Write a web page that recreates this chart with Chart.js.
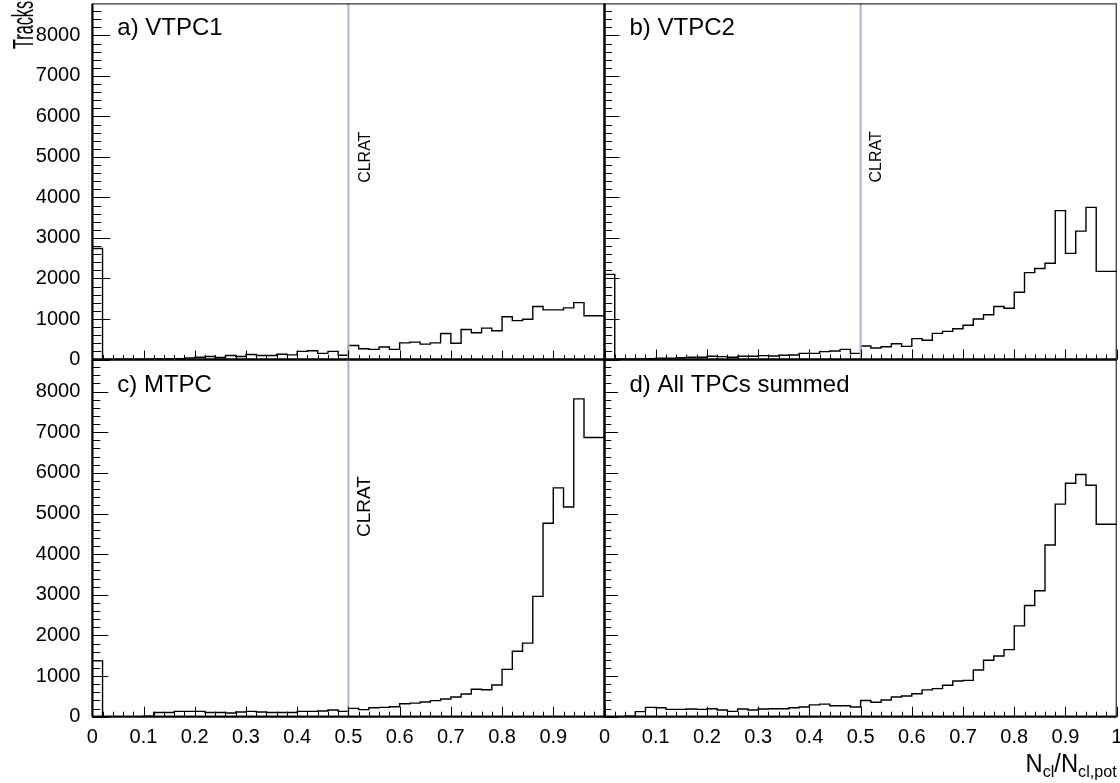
<!DOCTYPE html>
<html>
<head>
<meta charset="utf-8">
<title>Cluster ratio per TPC</title>
<script src="https://cdn.jsdelivr.net/npm/chart.js@4.4.0/dist/chart.umd.min.js"></script>
<style>
  html, body { margin: 0; padding: 0; background: #fff; }
  #wrap { position: relative; width: 1120px; height: 783px; }
  #wrap canvas { position: absolute; left: 0; top: 0; }
</style>
</head>
<body>
<div id="wrap">
  <canvas id="panel-a" width="1120" height="783"></canvas>
  <canvas id="panel-b" width="1120" height="783"></canvas>
  <canvas id="panel-c" width="1120" height="783"></canvas>
  <canvas id="panel-d" width="1120" height="783"></canvas>
</div>
<script>
// Histogram: 50 bins of width 0.02 between 0 and 1 (N_cl / N_cl,pot)
const X_MIN = 0, X_MAX = 1, BIN_WIDTH = 0.02;
const Y_MAX = 8790;
const CLRAT_CUT = 0.5;

// Bin contents (tracks per bin)
const vtpc1 = [2740, 0, 0, 0, 0, 10, 15, 15, 20, 40, 55, 75, 50, 100, 75, 125, 100, 100, 130, 115, 200, 215, 150, 200, 105,
               345, 265, 250, 310, 250, 410, 430, 380, 410, 640, 400, 740, 660, 775, 710, 1055, 960, 995, 1310, 1225, 1225, 1275, 1405, 1080, 1080];
const vtpc2 = [2100, 10, 10, 15, 20, 35, 35, 45, 55, 55, 80, 70, 55, 80, 80, 95, 85, 105, 110, 150, 150, 195, 210, 250, 150,
               335, 285, 315, 390, 325, 515, 475, 645, 695, 760, 845, 1000, 1105, 1310, 1265, 1660, 2145, 2245, 2375, 3675, 2620, 3170, 3755, 2175, 2175];
const mtpc  = [1373, 0, 0, 0, 0, 15, 105, 105, 130, 130, 130, 105, 105, 90, 115, 130, 115, 105, 105, 105, 130, 130, 140, 165, 130,
               205, 175, 220, 230, 245, 320, 335, 360, 395, 435, 485, 560, 675, 665, 780, 1165, 1610, 1810, 2960, 4760, 5630, 5160, 7820, 6870, 6870];
const allTpc = [0, 0, 10, 125, 230, 220, 180, 180, 190, 180, 195, 165, 130, 190, 165, 190, 195, 195, 220, 240, 290, 310, 270, 270, 240,
               400, 355, 410, 485, 510, 565, 660, 690, 775, 880, 895, 1150, 1390, 1495, 1650, 2235, 2735, 3100, 4225, 5230, 5745, 5960, 5695, 4735, 4735];

// Tick labels
const xTickValues = [0, 0.1, 0.2, 0.3, 0.4, 0.5, 0.6, 0.7, 0.8, 0.9, 1];
const yTickValues = [0, 1000, 2000, 3000, 4000, 5000, 6000, 7000, 8000];
// ROOT style secondary divisions
const X_MINOR = 0.02, Y_MINOR = 200;

const FONT = '"Liberation Sans", Arial, Helvetica, sans-serif';
const CUT_COLOR = '#a8b8c8';
const CANVAS_W = 1120, CANVAS_H = 783;
const Y_AXIS_W = 92, X_AXIS_H = 60;   // room kept for tick labels

function line(ctx, x1, y1, x2, y2) {
    ctx.beginPath();
    ctx.moveTo(x1, y1);
    ctx.lineTo(x2, y2);
    ctx.stroke();
}

// Draws ticks, frame, cut line and captions the way ROOT pads look
const rootPad = {
    id: 'rootPad',
    afterDatasetsDraw(chart, args, o) {
        const { ctx, chartArea: a, scales: { x, y } } = chart;
        ctx.save();

        // CLRAT cut line + vertical caption
        if (o.cutText) {
            const px = x.getPixelForValue(CLRAT_CUT);
            ctx.strokeStyle = CUT_COLOR;
            ctx.lineWidth = 2;
            line(ctx, px, a.top, px, a.bottom);
            ctx.save();
            ctx.fillStyle = '#000';
            ctx.font = o.cutText.size + 'px ' + FONT;
            ctx.translate(x.getPixelForValue(o.cutText.x), y.getPixelForValue(o.cutText.y));
            ctx.rotate(-Math.PI / 2);
            ctx.textAlign = 'left';
            ctx.textBaseline = 'alphabetic';
            ctx.fillText('CLRAT', 0, 0);
            ctx.restore();
        }

        // inward tick marks on the bottom and left axes
        ctx.strokeStyle = '#000';
        ctx.lineWidth = 1;
        for (let i = 0; i * X_MINOR <= X_MAX + 1e-9; i++) {
            const px = Math.round(x.getPixelForValue(i * X_MINOR)) + 0.5;
            const len = i % 5 === 0 ? o.xMajor : o.xMinor;
            line(ctx, px, a.bottom, px, a.bottom - len);
        }
        for (let i = 0; i * Y_MINOR <= Y_MAX; i++) {
            const py = Math.round(y.getPixelForValue(i * Y_MINOR)) + 0.5;
            const len = i % 5 === 0 ? o.yMajor : o.yMinor;
            line(ctx, a.left, py, a.left + len, py);
        }

        // pad frame
        ctx.lineWidth = 1;
        ctx.strokeRect(a.left + 0.5, a.top + 0.5, a.width - 1, a.height - 1);
        ctx.lineWidth = 2;
        line(ctx, a.left, a.top, a.left, a.bottom);
        line(ctx, a.left, a.bottom, a.right, a.bottom);

        // panel caption
        ctx.fillStyle = '#000';
        ctx.font = '24px ' + FONT;
        ctx.textAlign = 'left';
        ctx.textBaseline = 'alphabetic';
        ctx.fillText(o.label, a.left + 25, a.top + 32);

        ctx.restore();
    },
    afterDraw(chart, args, o) {
        const { ctx, chartArea: a } = chart;
        ctx.save();
        ctx.fillStyle = '#000';
        ctx.textBaseline = 'alphabetic';
        // global axis titles (drawn once)
        if (o.yTitle) {
            ctx.font = '30px ' + FONT;
            ctx.translate(33, 1);
            ctx.rotate(-Math.PI / 2);
            ctx.scale(0.54, 1);
            ctx.textAlign = 'right';
            ctx.fillText(o.yTitle, 0, 0);
        }
        if (o.xTitle) {
            const big = '25px ' + FONT, small = '17px ' + FONT;
            const parts = [['N', big, 0], ['cl', small, 5], ['/N', big, 0], ['cl,pot', small, 5]];
            const sx = 0.95;
            let w = 0;
            parts.forEach(p => { ctx.font = p[1]; w += ctx.measureText(p[0]).width * sx; });
            let cx = a.right - w;
            const base = 772;
            ctx.textAlign = 'left';
            parts.forEach(p => {
                ctx.font = p[1];
                ctx.save();
                ctx.translate(cx, base + p[2]);
                ctx.scale(sx, 1);
                ctx.fillText(p[0], 0, 0);
                ctx.restore();
                cx += ctx.measureText(p[0]).width * sx;
            });
        }
        ctx.restore();
    }
};

function makePanel(id, values, box, o) {
    const pts = values.map((v, i) => ({ x: X_MIN + i * BIN_WIDTH, y: v }));
    pts.push({ x: X_MAX, y: values[values.length - 1] });

    const yW = o.yLabels ? Y_AXIS_W : 0;
    const xH = o.xLabels ? X_AXIS_H : 0;

    return new Chart(document.getElementById(id), {
        type: 'line',
        data: {
            datasets: [{
                data: pts,
                stepped: true,
                borderColor: '#000',
                borderWidth: 1.4,
                pointRadius: 0,
                fill: false
            }]
        },
        options: {
            responsive: false,
            animation: false,
            events: [],
            layout: {
                padding: {
                    left: box.left - yW,
                    top: box.top,
                    right: CANVAS_W - box.right,
                    bottom: CANVAS_H - box.bottom - xH
                }
            },
            plugins: {
                legend: { display: false },
                tooltip: { enabled: false },
                rootPad: o
            },
            scales: {
                x: {
                    type: 'linear',
                    min: X_MIN,
                    max: X_MAX,
                    afterBuildTicks: s => { s.ticks = xTickValues.map(v => ({ value: v })); },
                    afterFit: s => {
                        s.height = xH;
                        s.paddingLeft = s.paddingRight = s.paddingTop = s.paddingBottom = 0;
                    },
                    grid: { display: false, drawTicks: false },
                    border: { display: false },
                    ticks: {
                        display: o.xLabels,
                        maxRotation: 0,
                        autoSkip: false,
                        padding: 9,
                        color: '#000',
                        font: { family: FONT, size: 20 },
                        callback: v => (o.hideOne && v === 1) ? '' : String(v)
                    }
                },
                y: {
                    type: 'linear',
                    min: 0,
                    max: Y_MAX,
                    afterBuildTicks: s => { s.ticks = yTickValues.map(v => ({ value: v })); },
                    afterFit: s => {
                        s.width = yW;
                        s.paddingLeft = s.paddingRight = s.paddingTop = s.paddingBottom = 0;
                    },
                    grid: { display: false, drawTicks: false },
                    border: { display: false },
                    ticks: {
                        display: o.yLabels,
                        autoSkip: false,
                        padding: 12,
                        color: '#000',
                        font: { family: FONT, size: 20 },
                        callback: v => String(v)
                    }
                }
            }
        },
        plugins: [rootPad]
    });
}

// pad rectangles in page pixels
const LEFT = 92.3, MID = 604.5, RIGHT = 1116.7, TOP = 3.4, HMID = 359.5, BOTTOM = 716.7;

document.addEventListener('DOMContentLoaded', () => {
    makePanel('panel-a', vtpc1, { left: LEFT, right: MID, top: TOP, bottom: HMID }, {
        label: 'a) VTPC1', yLabels: true, xLabels: false, xMajor: 9, xMinor: 4.5, yMajor: 18, yMinor: 9,
        cutText: { x: 0.542, y: 4360, size: 16 }, yTitle: 'Tracks'
    });
    makePanel('panel-b', vtpc2, { left: MID, right: RIGHT, top: TOP, bottom: HMID }, {
        label: 'b) VTPC2', yLabels: false, xLabels: false, xMajor: 10, xMinor: 5, yMajor: 15, yMinor: 7.5,
        cutText: { x: 0.539, y: 4368, size: 16 }
    });
    makePanel('panel-c', mtpc, { left: LEFT, right: MID, top: HMID, bottom: BOTTOM }, {
        label: 'c) MTPC', yLabels: true, xLabels: true, hideOne: true, xMajor: 10, xMinor: 5, yMajor: 16, yMinor: 8,
        cutText: { x: 0.5415, y: 4424, size: 19 }
    });
    makePanel('panel-d', allTpc, { left: MID, right: RIGHT, top: HMID, bottom: BOTTOM }, {
        label: 'd) All TPCs summed', yLabels: false, xLabels: true, xMajor: 10, xMinor: 5, yMajor: 13.5, yMinor: 6.7,
        xTitle: true
    });
});
</script>
</body>
</html>
